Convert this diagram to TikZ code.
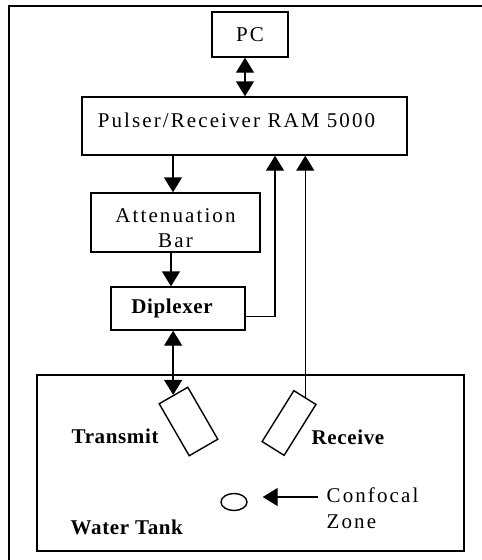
\documentclass[tikz,border=0pt]{standalone}
\usepackage{fontspec}
\setmainfont{Liberation Serif}[LetterSpace=10, BoldFeatures={LetterSpace=3}]
\usetikzlibrary{arrows.meta,shapes.geometric}

\begin{document}
\begin{tikzpicture}[x=1pt, y=-1pt, line width=1.4pt,
    font=\fontsize{21}{25}\selectfont,
    >={Triangle[width=18pt,length=15pt]}]
    \tikzstyle{box} = [rectangle, draw, inner sep=0pt]
    \tikzstyle{probe} = [rectangle, draw, inner sep=0pt, minimum height=60pt]
    \tikzstyle{lbl} = [inner sep=0pt, anchor=west, font=\fontsize{21}{26}\selectfont\bfseries]

    \useasboundingbox (0,0) rectangle (482,560);
    \clip (0,0) rectangle (482,560);

    % Outer frame
    \draw[line width=1.6pt] (9,6) rectangle (500,580);

    % Blocks
    \node[box, minimum width=76pt, minimum height=45pt] (pc) at (250,34.5) {PC};
    \node[box, minimum width=325pt, minimum height=58pt,
          label={[xshift=-8pt, yshift=6pt]center:Pulser/Receiver RAM 5000}] (pulser) at (244.5,126) {};
    \node[box, minimum width=169pt, minimum height=59pt,
          label={[yshift=-6pt, align=center]center:Attenuation\\Bar}] (att) at (175.5,222.5) {};
    \node[box, minimum width=134pt, minimum height=43pt,
          label={[xshift=-6pt, font=\fontsize{21}{25}\selectfont\bfseries]center:Diplexer}] (dip) at (178,308.5) {};

    % Water tank
    \node[box, minimum width=427pt, minimum height=176pt] (tank) at (250.5,463) {};
    \node[probe, minimum width=33pt, rotate=30] (tx) at (188.5,421.5) {};
    \node[probe, minimum width=26pt, rotate=-32] (rx) at (289,423) {};
    \node[draw, ellipse, inner sep=0pt, minimum width=26pt, minimum height=17pt] (focus) at (234,502) {};

    % Labels
    \node[lbl] (txl) at (71,436) {Transmit};
    \node[lbl] (rxl) at (311,437) {Receive};
    \node[lbl] (tankl) at (70,527) {Water Tank};
    \node[lbl, align=left, font=\fontsize{21}{26}\selectfont] (conf) at (326,508) {Confocal\\Zone};

    % Connections
    \coordinate (c1) at (171,0);
    \coordinate (c2) at (275,0);
    \coordinate (tip) at ([xshift=15pt, yshift=5pt]focus.east);
    \draw[<->] ([xshift=-5pt]pc.south) -- ([xshift=-5pt]pc.south |- pulser.north);
    \draw[->] (pulser.south -| 173,0) -- (att.north -| 173,0);
    \draw[->] (att.south -| c1) -- (dip.north -| c1);
    \draw[<->] (dip.south -| tx.north) -- (tx.north);
    \draw[->] ([yshift=-8pt]dip.east) -| (pulser.south -| c2);
    \draw[->] (rx.north) -- (pulser.south -| rx.north);
    \draw[->] ([xshift=-8pt]conf.west |- tip) -- (tip);
\end{tikzpicture}
\end{document}
